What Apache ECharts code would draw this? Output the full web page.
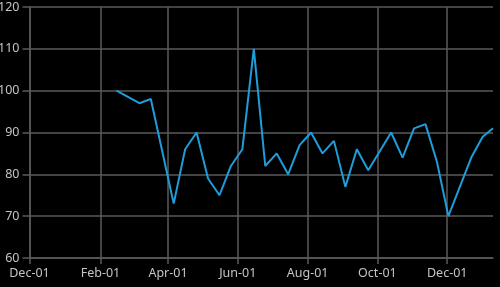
<!DOCTYPE html>
<html>
<head>
<meta charset="utf-8">
<script src="https://cdn.jsdelivr.net/npm/echarts@6/dist/echarts.min.js"></script>
<style>
  html, body { margin: 0; padding: 0; background: #000; }
  #chart { width: 500px; height: 287px; }
</style>
</head>
<body>
<div id="chart"></div>
<script>
// dates and values (about every 10 days)
const dates = [
  '2019-02-15', '2019-03-07', '2019-03-17', '2019-04-06', '2019-04-16',
  '2019-04-26', '2019-05-06', '2019-05-16', '2019-05-26', '2019-06-05',
  '2019-06-15', '2019-06-25', '2019-07-05', '2019-07-15', '2019-07-25',
  '2019-08-04', '2019-08-14', '2019-08-24', '2019-09-03', '2019-09-13',
  '2019-09-23', '2019-10-13', '2019-10-23', '2019-11-02', '2019-11-12',
  '2019-11-22', '2019-12-02', '2019-12-22', '2020-01-01', '2020-01-10'
]
const values = [
  100, 97, 98, 73, 86,
  90, 79, 75, 82, 86,
  110, 82, 85, 80, 87,
  90, 85, 88, 77, 86,
  81, 90, 84, 91, 92,
  83, 70, 84, 89, 91
]
const xTicks = ['2018-12-01', '2019-02-01', '2019-04-01', '2019-06-01', '2019-08-01', '2019-10-01', '2019-12-01']
const xMin = '2018-12-01'
const xMax = '2020-01-10'
const months = ['Jan', 'Feb', 'Mar', 'Apr', 'May', 'Jun', 'Jul', 'Aug', 'Sep', 'Oct', 'Nov', 'Dec']

const toTime = s => {
  const p = s.split('-').map(Number)
  return Date.UTC(p[0], p[1] - 1, p[2])
}

const gridColor = '#5a5a5a'
const labelColor = '#c4c4c4'
const font = 'Noto Sans'

const chart = echarts.init(document.getElementById('chart'), null, { renderer: 'canvas' })
chart.setOption({
  backgroundColor: '#000',
  animation: false,
  grid: { left: 29.5, right: 7, top: 7, bottom: 29, containLabel: false, outerBoundsMode: 'none' },
  xAxis: {
    type: 'value',
    min: toTime(xMin),
    max: toTime(xMax),
    axisLine: { show: true, onZero: false, lineStyle: { color: gridColor, width: 1.5 } },
    axisTick: { show: true, length: 6, lineStyle: { color: gridColor, width: 1.5 }, customValues: xTicks.map(toTime) },
    axisLabel: {
      color: labelColor,
      fontFamily: font,
      fontSize: 12.5,
      margin: 9,
      customValues: xTicks.map(toTime),
      formatter: v => {
        const d = new Date(v)
        return months[d.getUTCMonth()] + '-' + String(d.getUTCDate()).padStart(2, '0')
      }
    },
    splitLine: { show: true, lineStyle: { color: gridColor, width: 1.5 } }
  },
  yAxis: {
    type: 'value',
    min: 60,
    max: 120,
    interval: 10,
    axisLine: { show: true, lineStyle: { color: gridColor, width: 1.5 } },
    axisTick: { show: true, length: 7, lineStyle: { color: gridColor, width: 1.5 } },
    axisLabel: { color: labelColor, fontFamily: font, fontSize: 12.5, margin: 10 },
    splitLine: { show: true, lineStyle: { color: gridColor, width: 1.5 } }
  },
  series: [{
    type: 'line',
    data: dates.map((d, i) => [toTime(d), values[i]]),
    showSymbol: false,
    lineStyle: { color: '#1f9ddb', width: 2 },
    itemStyle: { color: '#1f9ddb' }
  }]
})
</script>
</body>
</html>
